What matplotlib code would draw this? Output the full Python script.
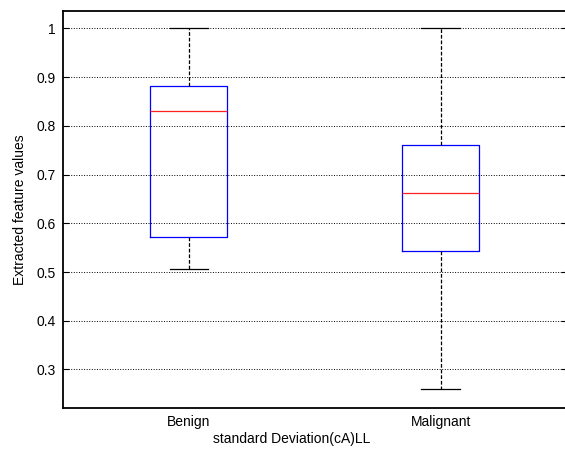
import matplotlib
matplotlib.use("Agg")
import matplotlib.pyplot as plt

plt.rcParams['font.family'] = ['Liberation Sans', 'DejaVu Sans']

# box statistics
groups = ['Benign', 'Malignant']
whislo = [0.507, 0.259]
q1 = [0.572, 0.543]
med = [0.831, 0.662]
q3 = [0.882, 0.760]
whishi = [1.0, 1.0]
yticks = [0.3, 0.4, 0.5, 0.6, 0.7, 0.8, 0.9, 1.0]
yticklabels = ['0.3', '0.4', '0.5', '0.6', '0.7', '0.8', '0.9', '1']

stats = [dict(label=g, whislo=a, q1=b, med=c, q3=d, whishi=e)
         for g, a, b, c, d, e in zip(groups, whislo, q1, med, q3, whishi)]

fig = plt.figure(figsize=(5.65, 4.5), dpi=100)
ax = fig.add_axes([63 / 565, 42 / 450, 503.5 / 565, 397 / 450])

ax.bxp(stats, positions=[1, 2], widths=0.305, showfliers=False,
       boxprops=dict(color='blue', linewidth=0.9),
       medianprops=dict(color='#ff2020', linewidth=0.9),
       whiskerprops=dict(color='black', linewidth=0.9, linestyle=(0, (3, 1.5))),
       capprops=dict(color='black', linewidth=0.9))

ax.set_xlim(0.5, 2.5)
ax.set_ylim(0.221, 1.0355)
ax.set_yticks(yticks)
ax.set_yticklabels(yticklabels)
ax.yaxis.grid(True, linestyle=':', color='black', linewidth=0.7)
ax.set_axisbelow(True)
ax.tick_params(axis='y', direction='in', left=True, right=True, length=4, labelsize=10, pad=5)
ax.tick_params(axis='x', length=0, labelsize=10, pad=5)
for s in ax.spines.values():
    s.set_linewidth(1.3)

ax.set_ylabel('Extracted feature values', fontsize=10)
ax.yaxis.set_label_coords(-0.0715, 0.5)
ax.set_xlabel('standard Deviation(cA)LL', fontsize=10)
ax.xaxis.set_label_coords(0.455, -0.06)

fig.savefig('out.png', dpi=100)
